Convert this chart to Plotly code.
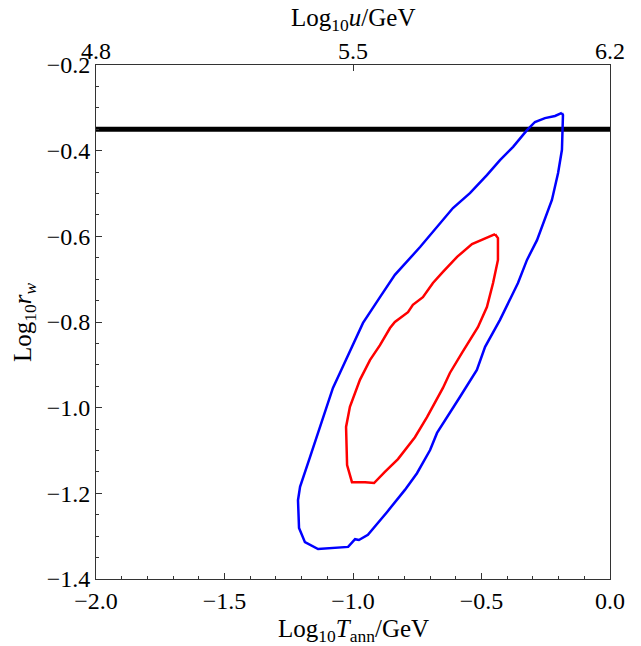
import plotly.graph_objects as go

# 2-sigma (outer) and 1-sigma (inner) contours in the (log10 T_ann, log10 r_w) plane
outer_x = [-0.187, -0.183, -0.187, -0.202, -0.226, -0.261, -0.284, -0.323, -0.358, -0.428,
           -0.486, -0.518, -0.564, -0.584, -0.673, -0.700, -0.751, -0.798, -0.868, -0.903,
           -0.942, -0.977, -0.992, -1.019, -1.136, -1.187, -1.210, -1.214, -1.206, -1.167,
           -1.128, -1.078, -1.051, -1.023, -0.973, -0.961, -0.895, -0.837, -0.739, -0.673,
           -0.611, -0.545, -0.479, -0.428, -0.377, -0.323, -0.292, -0.253, -0.214, -0.187]
outer_y = [-0.312, -0.317, -0.398, -0.452, -0.515, -0.569, -0.609, -0.655, -0.709, -0.795,
           -0.858, -0.912, -0.954, -0.975, -1.059, -1.099, -1.153, -1.192, -1.244, -1.269,
           -1.297, -1.309, -1.307, -1.325, -1.330, -1.314, -1.281, -1.216, -1.185, -1.115,
           -1.045, -0.954, -0.919, -0.882, -0.819, -0.802, -0.742, -0.690, -0.625, -0.578,
           -0.534, -0.499, -0.457, -0.422, -0.391, -0.352, -0.333, -0.324, -0.319, -0.312]

inner_x = [-0.447, -0.436, -0.436, -0.455, -0.479, -0.514, -0.576, -0.623, -0.650, -0.712,
           -0.759, -0.825, -0.876, -0.918, -0.953, -1.004, -1.023, -1.027, -1.027, -1.012,
           -0.984, -0.973, -0.934, -0.895, -0.856, -0.837, -0.786, -0.767, -0.728, -0.689,
           -0.650, -0.595, -0.537, -0.447]
inner_y = [-0.595, -0.604, -0.655, -0.709, -0.765, -0.812, -0.872, -0.919, -0.954, -1.022,
           -1.069, -1.120, -1.150, -1.176, -1.174, -1.174, -1.134, -1.076, -1.045, -0.998,
           -0.954, -0.935, -0.889, -0.854, -0.814, -0.800, -0.777, -0.760, -0.742, -0.709,
           -0.683, -0.648, -0.618, -0.595]

# horizontal bound on log10 r_w
bound_y = -0.35

x_range = [-2.0, 0.0]
y_range = [-1.4, -0.2]
u_range = [4.8, 6.2]
u_ticks = [4.8, 5.5, 6.2]

FONT = "Liberation Serif"
frame = "#333333"

fig = go.Figure()
fig.add_trace(go.Scatter(x=x_range, y=[bound_y, bound_y], mode="lines",
                         line=dict(color="black", width=5), hoverinfo="skip"))
fig.add_trace(go.Scatter(x=outer_x, y=outer_y, mode="lines",
                         line=dict(color="#0000ff", width=2.5), hoverinfo="skip"))
fig.add_trace(go.Scatter(x=inner_x, y=inner_y, mode="lines",
                         line=dict(color="#ff0000", width=2.5), hoverinfo="skip"))
# carrier for the top axis
fig.add_trace(go.Scatter(x=u_range, y=[None, None], xaxis="x2", yaxis="y",
                         mode="lines", hoverinfo="skip"))

tickfont = dict(family=FONT, size=24, color="black")
titlefont = dict(family=FONT, size=25, color="black")

fig.update_layout(
    width=641, height=646,
    margin=dict(l=96, r=31, t=65, b=67),
    paper_bgcolor="white", plot_bgcolor="white",
    showlegend=False,
    xaxis=dict(range=x_range, dtick=0.5, tick0=0, tickformat=".1f",
               ticks="inside", ticklen=6, tickcolor=frame, tickwidth=1,
               showline=True, linecolor=frame, linewidth=1, mirror=True,
               showgrid=False, zeroline=False, tickfont=tickfont,
               minor=dict(dtick=0.1, tick0=0, ticks="inside", ticklen=3,
                          tickcolor=frame, showgrid=False)),
    xaxis2=dict(range=u_range, overlaying="x", side="top", tickvals=u_ticks,
                ticktext=[f"{v:.1f}" for v in u_ticks],
                ticks="inside", ticklen=6, tickcolor=frame, tickwidth=1,
                showline=False, showgrid=False, zeroline=False, tickfont=tickfont),
    yaxis=dict(range=y_range, dtick=0.2, tick0=0, tickformat=".1f",
               ticks="inside", ticklen=6, tickcolor=frame, tickwidth=1,
               showline=True, linecolor=frame, linewidth=1, mirror=True,
               showgrid=False, zeroline=False, tickfont=tickfont,
               minor=dict(dtick=0.05, tick0=0, ticks="inside", ticklen=3,
                          tickcolor=frame, showgrid=False)),
    annotations=[
        dict(text="Log<sub>10</sub><i>T</i><sub>ann</sub>/GeV", x=0.5, y=-0.1,
             xref="paper", yref="paper", xanchor="center", yanchor="middle",
             showarrow=False, font=titlefont),
        dict(text="Log<sub>10</sub><i>u</i>/GeV", x=0.5, y=1.088,
             xref="paper", yref="paper", xanchor="center", yanchor="middle",
             showarrow=False, font=titlefont),
        dict(text="Log<sub>10</sub><i>r<sub>w</sub></i>", x=-0.14, y=0.5,
             xref="paper", yref="paper", xanchor="center", yanchor="middle",
             textangle=-90, showarrow=False, font=titlefont),
    ],
)

fig.write_html("out.html")
